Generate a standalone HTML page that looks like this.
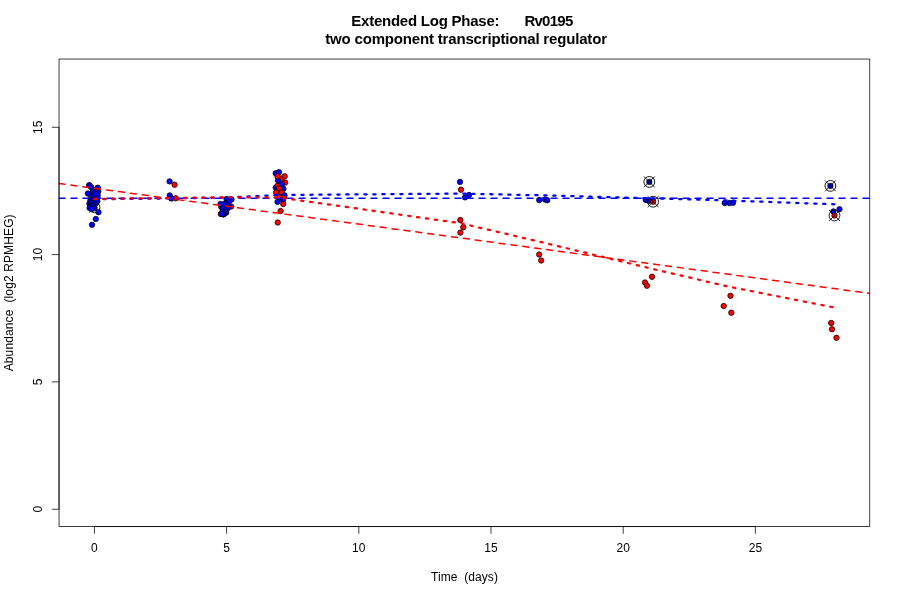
<!DOCTYPE html>
<html lang="en">
<head>
<meta charset="utf-8">
<title>Extended Log Phase: Rv0195</title>
<style>
html,body{margin:0;padding:0;background:#fff;}
body{width:900px;height:600px;overflow:hidden;}
svg{display:block;}
svg text{font-family:"Liberation Sans",Arial,Helvetica,sans-serif;font-size:12px;fill:#000;}
svg text.ttl{font-size:15px;font-weight:bold;}
</style>
</head>
<body>
<svg width="900" height="600" viewBox="0 0 900 600">
<rect width="900" height="600" fill="#fff"/>
<defs><clipPath id="pc"><rect x="59.04" y="59.04" width="810.72" height="467.52"/></clipPath></defs>
<g stroke="#000" stroke-width="0.75">
<circle cx="89.5" cy="185.5" r="2.7" fill="#ff0000"/>
<circle cx="97.5" cy="188" r="2.7" fill="#ff0000"/>
<circle cx="91" cy="196" r="2.7" fill="#ff0000"/>
<circle cx="96" cy="203" r="2.7" fill="#ff0000"/>
<circle cx="90" cy="207" r="2.7" fill="#ff0000"/>
<circle cx="94.5" cy="207.5" r="2.7" fill="#ff0000"/>
<circle cx="97" cy="200" r="2.7" fill="#ff0000"/>
<g fill="none" stroke-width="0.9"><circle cx="94.5" cy="207.3" r="5.4"/><path d="M89.1 201.9L99.9 212.7M89.1 212.7L99.9 201.9"/></g>
<circle cx="174.6" cy="184.75" r="2.7" fill="#ff0000"/>
<circle cx="175.8" cy="198.3" r="2.7" fill="#ff0000"/>
<circle cx="231.2" cy="206.5" r="2.7" fill="#ff0000"/>
<circle cx="221.3" cy="207" r="2.7" fill="#ff0000"/>
<circle cx="220.8" cy="214" r="2.7" fill="#ff0000"/>
<circle cx="89.2" cy="185.2" r="2.7" fill="#0000ff"/>
<circle cx="91.3" cy="187.2" r="2.7" fill="#0000ff"/>
<circle cx="97.8" cy="187.8" r="2.7" fill="#0000ff"/>
<circle cx="94.5" cy="190.2" r="2.7" fill="#0000ff"/>
<circle cx="92.7" cy="192" r="2.7" fill="#0000ff"/>
<circle cx="87.9" cy="193.5" r="2.7" fill="#0000ff"/>
<circle cx="98.3" cy="191.6" r="2.7" fill="#0000ff"/>
<circle cx="97.3" cy="192.4" r="2.7" fill="#0000ff"/>
<circle cx="97.7" cy="195.7" r="2.7" fill="#0000ff"/>
<circle cx="92.7" cy="195.7" r="2.7" fill="#0000ff"/>
<circle cx="95" cy="193.8" r="2.7" fill="#0000ff"/>
<circle cx="90.3" cy="200.8" r="2.7" fill="#0000ff"/>
<circle cx="94" cy="200.2" r="2.7" fill="#0000ff"/>
<circle cx="97.3" cy="201.3" r="2.7" fill="#0000ff"/>
<circle cx="92" cy="201.3" r="2.7" fill="#0000ff"/>
<circle cx="89.4" cy="203.7" r="2.7" fill="#0000ff"/>
<circle cx="91.2" cy="203" r="2.7" fill="#0000ff"/>
<circle cx="94.8" cy="204" r="2.7" fill="#0000ff"/>
<circle cx="93.3" cy="205.2" r="2.7" fill="#0000ff"/>
<circle cx="90.7" cy="205.8" r="2.7" fill="#0000ff"/>
<circle cx="92.7" cy="206.7" r="2.7" fill="#0000ff"/>
<circle cx="89.6" cy="208" r="2.7" fill="#0000ff"/>
<circle cx="94.2" cy="208.3" r="2.7" fill="#0000ff"/>
<circle cx="91.7" cy="209" r="2.7" fill="#0000ff"/>
<circle cx="98.5" cy="212.2" r="2.7" fill="#0000ff"/>
<circle cx="95.8" cy="219" r="2.7" fill="#0000ff"/>
<circle cx="92" cy="224.8" r="2.7" fill="#0000ff"/>
<circle cx="169.6" cy="181.4" r="2.7" fill="#0000ff"/>
<circle cx="169.75" cy="195.4" r="2.7" fill="#0000ff"/>
<circle cx="171.3" cy="198.5" r="2.7" fill="#0000ff"/>
<circle cx="231.5" cy="199.5" r="2.7" fill="#0000ff"/>
<circle cx="226.5" cy="199" r="2.7" fill="#0000ff"/>
<circle cx="229" cy="201.25" r="2.7" fill="#0000ff"/>
<circle cx="220.5" cy="204" r="2.7" fill="#0000ff"/>
<circle cx="224.5" cy="203.75" r="2.7" fill="#0000ff"/>
<circle cx="229.2" cy="206.5" r="2.7" fill="#0000ff"/>
<circle cx="227.5" cy="208.5" r="2.7" fill="#0000ff"/>
<circle cx="222.8" cy="208.5" r="2.7" fill="#0000ff"/>
<circle cx="225.5" cy="210.5" r="2.7" fill="#0000ff"/>
<circle cx="226.2" cy="212.6" r="2.7" fill="#0000ff"/>
<circle cx="222.5" cy="212" r="2.7" fill="#0000ff"/>
<circle cx="224.5" cy="213.6" r="2.7" fill="#0000ff"/>
<circle cx="223.5" cy="214.5" r="2.7" fill="#0000ff"/>
<circle cx="222" cy="214" r="2.7" fill="#0000ff"/>
<circle cx="275.7" cy="173.3" r="2.7" fill="#0000ff"/>
<circle cx="279" cy="172.2" r="2.7" fill="#0000ff"/>
<circle cx="281.6" cy="178.5" r="2.7" fill="#ff0000"/>
<circle cx="277.9" cy="180.3" r="2.7" fill="#0000ff"/>
<circle cx="277.5" cy="176.3" r="2.7" fill="#ff0000"/>
<circle cx="284.7" cy="176.3" r="2.7" fill="#ff0000"/>
<circle cx="285.2" cy="182.5" r="2.7" fill="#ff0000"/>
<circle cx="275.7" cy="187.6" r="2.7" fill="#0000ff"/>
<circle cx="283.4" cy="188.7" r="2.7" fill="#0000ff"/>
<circle cx="277.5" cy="185.8" r="2.7" fill="#ff0000"/>
<circle cx="281.9" cy="184.3" r="2.7" fill="#0000ff"/>
<circle cx="279" cy="188.4" r="2.7" fill="#ff0000"/>
<circle cx="276.1" cy="192.4" r="2.7" fill="#ff0000"/>
<circle cx="281.6" cy="192.4" r="2.7" fill="#ff0000"/>
<circle cx="284.5" cy="195.3" r="2.7" fill="#0000ff"/>
<circle cx="279" cy="197" r="2.7" fill="#ff0000"/>
<circle cx="283.8" cy="197.5" r="2.7" fill="#ff0000"/>
<circle cx="283" cy="200.1" r="2.7" fill="#0000ff"/>
<circle cx="277.5" cy="201.9" r="2.7" fill="#0000ff"/>
<circle cx="283.25" cy="204" r="2.7" fill="#ff0000"/>
<circle cx="280.6" cy="211" r="2.7" fill="#ff0000"/>
<circle cx="277.75" cy="222.5" r="2.7" fill="#ff0000"/>
<circle cx="460" cy="181.9" r="2.7" fill="#0000ff"/>
<circle cx="469" cy="195" r="2.7" fill="#0000ff"/>
<circle cx="465" cy="197.4" r="2.7" fill="#0000ff"/>
<circle cx="539.2" cy="200" r="2.7" fill="#0000ff"/>
<circle cx="545" cy="199.5" r="2.7" fill="#0000ff"/>
<circle cx="547.2" cy="200.2" r="2.7" fill="#0000ff"/>
<circle cx="649.3" cy="181.9" r="2.7" fill="#0000ff"/>
<circle cx="645.8" cy="200" r="2.7" fill="#0000ff"/>
<circle cx="648.75" cy="200.8" r="2.7" fill="#0000ff"/>
<circle cx="724.7" cy="203" r="2.7" fill="#0000ff"/>
<circle cx="729.4" cy="203" r="2.7" fill="#0000ff"/>
<circle cx="733" cy="202.8" r="2.7" fill="#0000ff"/>
<circle cx="830.4" cy="185.9" r="2.7" fill="#0000ff"/>
<circle cx="833.4" cy="211.4" r="2.7" fill="#0000ff"/>
<circle cx="839.5" cy="209.2" r="2.7" fill="#0000ff"/>
<g fill="none" stroke-width="0.9"><circle cx="649.3" cy="181.9" r="5.4"/><path d="M643.9 176.5L654.7 187.3M643.9 187.3L654.7 176.5"/></g>
<g fill="none" stroke-width="0.9"><circle cx="830.4" cy="185.9" r="5.4"/><path d="M825 180.5L835.8 191.3M825 191.3L835.8 180.5"/></g>
<circle cx="461" cy="189.7" r="2.7" fill="#ff0000"/>
<circle cx="460.3" cy="220" r="2.7" fill="#ff0000"/>
<circle cx="463.3" cy="227.3" r="2.7" fill="#ff0000"/>
<circle cx="460.4" cy="232.6" r="2.7" fill="#ff0000"/>
<circle cx="539.2" cy="254.5" r="2.7" fill="#ff0000"/>
<circle cx="541.2" cy="260.5" r="2.7" fill="#ff0000"/>
<circle cx="652" cy="276.8" r="2.7" fill="#ff0000"/>
<circle cx="645" cy="282.5" r="2.7" fill="#ff0000"/>
<circle cx="647" cy="285.7" r="2.7" fill="#ff0000"/>
<circle cx="653.1" cy="201.7" r="2.7" fill="#ff0000"/>
<circle cx="730.5" cy="295.8" r="2.7" fill="#ff0000"/>
<circle cx="723.7" cy="306" r="2.7" fill="#ff0000"/>
<circle cx="731.3" cy="312.7" r="2.7" fill="#ff0000"/>
<circle cx="834.5" cy="215.5" r="2.7" fill="#ff0000"/>
<circle cx="831.2" cy="323" r="2.7" fill="#ff0000"/>
<circle cx="832" cy="329.2" r="2.7" fill="#ff0000"/>
<circle cx="836.5" cy="337.8" r="2.7" fill="#ff0000"/>
<g fill="none" stroke-width="0.9"><circle cx="653.1" cy="201.7" r="5.4"/><path d="M647.7 196.3L658.5 207.1M647.7 207.1L658.5 196.3"/></g>
<g fill="none" stroke-width="0.9"><circle cx="834.5" cy="215.5" r="5.4"/><path d="M829.1 210.1L839.9 220.9M829.1 220.9L839.9 210.1"/></g>
</g>
<g fill="none" stroke-linecap="round" clip-path="url(#pc)">
<path d="M59.04 183.5L869.76 293.4" stroke="#ff0000" stroke-width="1.5" stroke-dasharray="6 6"/>
<path d="M59.04 198.2H869.76" stroke="#0000ff" stroke-width="1.5" stroke-dasharray="6 6"/>
<polyline points="94.4,199.3 172,198.4 226,197.6 279.5,195 460.5,193.6 540,195.3 650,198.3 728,200.5 834.5,204.3" stroke="#0000ff" stroke-width="2.25" stroke-dasharray="2.25 6.75" stroke-linejoin="round"/>
<polyline points="94.4,198.9 172,198 226,197.3 279.5,197.5 460.5,223.2 540,241.8 650,268.3 728,286.5 833,307.3" stroke="#ff0000" stroke-width="2.25" stroke-dasharray="2.25 6.75" stroke-linejoin="round"/>
</g>
<rect x="59.04" y="59.04" width="810.72" height="467.52" fill="none" stroke="#000" stroke-width="0.75"/>
<path d="M94.4 526.56H755.4M94.4 526.56v7.2M226.6 526.56v7.2M358.8 526.56v7.2M491 526.56v7.2M623.2 526.56v7.2M755.4 526.56v7.2" fill="none" stroke="#000" stroke-width="0.75"/>
<path d="M59.04 509.25V127.3M59.04 509.25h-7.2M59.04 381.9h-7.2M59.04 254.6h-7.2M59.04 127.3h-7.2" fill="none" stroke="#000" stroke-width="0.75"/>
<text x="94.4" y="552" text-anchor="middle">0</text>
<text x="226.6" y="552" text-anchor="middle">5</text>
<text x="358.8" y="552" text-anchor="middle">10</text>
<text x="491" y="552" text-anchor="middle">15</text>
<text x="623.2" y="552" text-anchor="middle">20</text>
<text x="755.4" y="552" text-anchor="middle">25</text>
<text transform="translate(42.1 509.25) rotate(-90)" text-anchor="middle">0</text>
<text transform="translate(42.1 381.9) rotate(-90)" text-anchor="middle">5</text>
<text transform="translate(42.1 254.6) rotate(-90)" text-anchor="middle">10</text>
<text transform="translate(42.1 127.3) rotate(-90)" text-anchor="middle">15</text>
<text class="ttl" x="351.3" y="26" textLength="148.2">Extended Log Phase:</text>
<text class="ttl" x="524.4" y="26" textLength="48.9">Rv0195</text>
<text class="ttl" x="325.2" y="44" textLength="281.8">two component transcriptional regulator</text>
<text x="431.1" y="580.7" textLength="66.8" xml:space="preserve">Time  (days)</text>
<text transform="translate(13.1 371.3) rotate(-90)" textLength="156.9" xml:space="preserve">Abundance  (log2 RPMHEG)</text>
</svg>
</body>
</html>
